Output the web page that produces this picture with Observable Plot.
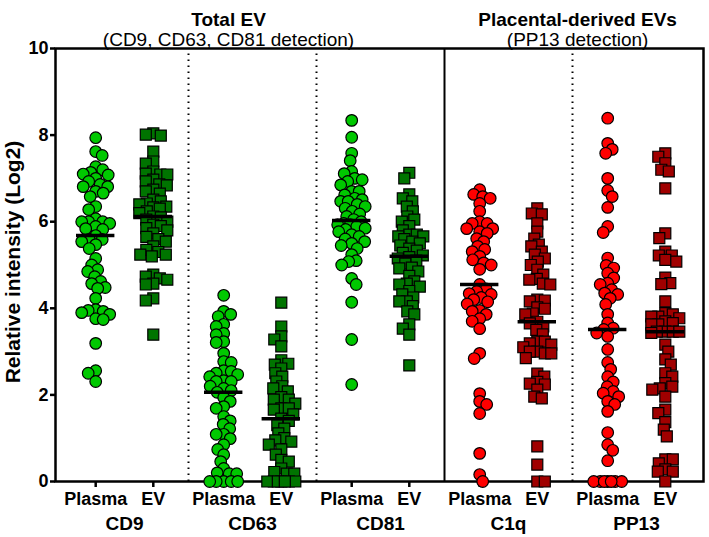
<!DOCTYPE html>
<html><head><meta charset="utf-8">
<script src="https://cdn.jsdelivr.net/npm/d3@7"></script>
<script src="https://cdn.jsdelivr.net/npm/@observablehq/plot@0.6"></script>
<style>body{margin:0;background:#fff}</style>
</head><body><div id="chart"></div>
<script>
// ---- data ----
const groups = ["CD9", "CD63", "CD81", "C1q", "PP13"];
const sampleTypes = ["Plasma", "EV"];
const yTicks = [0, 2, 4, 6, 8, 10];
const panelTitles = ["Total EV", "Placental-derived EVs"];
const panelSubtitles = ["(CD9, CD63, CD81 detection)", "(PP13 detection)"];
const yLabel = "Relative intensity (Log2)";

const cd9Plasma = [7.94, 7.62, 7.53, 7.27, 7.2, 7.14, 7.1, 7.08, 7.0, 6.93, 6.86, 6.81, 6.81, 6.7, 6.66, 6.58, 6.35, 6.28, 6.07, 6.0, 6.0, 6.0, 5.96, 5.89, 5.84, 5.82, 5.68, 5.59, 5.59, 5.54, 5.47, 5.38, 5.15, 5.0, 4.89, 4.85, 4.73, 4.62, 4.57, 4.48, 4.46, 4.23, 3.97, 3.95, 3.93, 3.9, 3.86, 3.76, 3.74, 3.19, 2.56, 2.5, 2.31];
const cd9EV = [8.04, 8.01, 7.99, 7.62, 7.39, 7.34, 7.16, 7.11, 7.09, 7.09, 6.97, 6.93, 6.86, 6.84, 6.74, 6.7, 6.65, 6.51, 6.47, 6.42, 6.4, 6.35, 6.33, 6.3, 6.24, 6.2, 6.12, 6.1, 6.05, 6.0, 5.93, 5.9, 5.85, 5.8, 5.73, 5.65, 5.6, 5.54, 5.43, 5.35, 5.3, 5.24, 5.24, 5.2, 4.78, 4.73, 4.69, 4.66, 4.57, 4.55, 4.23, 4.18, 3.39];
const cd63Plasma = [4.3, 3.93, 3.86, 3.81, 3.63, 3.58, 3.42, 3.39, 3.23, 3.21, 2.96, 2.77, 2.75, 2.56, 2.54, 2.5, 2.47, 2.42, 2.33, 2.31, 2.31, 2.2, 2.15, 2.1, 2.06, 1.94, 1.85, 1.73, 1.69, 1.5, 1.4, 1.32, 1.22, 1.09, 1.09, 0.99, 0.85, 0.74, 0.62, 0.46, 0.3, 0.2, 0.18, 0.18, 0, 0, 0, 0, 0];
const cd63EV = [4.13, 3.58, 3.35, 3.28, 3.12, 2.8, 2.72, 2.7, 2.61, 2.5, 2.42, 2.31, 2.2, 2.15, 2.08, 1.95, 1.89, 1.89, 1.8, 1.69, 1.69, 1.66, 1.55, 1.45, 1.4, 1.3, 1.22, 1.11, 1.0, 0.95, 0.92, 0.85, 0.74, 0.62, 0.5, 0.46, 0.3, 0.22, 0.18, 0.18, 0, 0, 0, 0, 0, 0, 0];
const cd81Plasma = [8.34, 7.95, 7.58, 7.41, 7.16, 7.11, 7.0, 6.97, 6.93, 6.85, 6.7, 6.7, 6.62, 6.54, 6.51, 6.47, 6.47, 6.4, 6.35, 6.31, 6.24, 6.18, 6.12, 6.05, 6.0, 5.96, 5.93, 5.93, 5.89, 5.85, 5.82, 5.77, 5.7, 5.66, 5.6, 5.54, 5.5, 5.45, 5.38, 5.24, 5.1, 5.08, 5.0, 4.69, 4.55, 4.14, 3.28, 2.24];
const cd81EV = [7.13, 7.0, 6.63, 6.54, 6.47, 6.35, 6.24, 6.12, 6.05, 6.0, 5.9, 5.8, 5.7, 5.7, 5.66, 5.66, 5.6, 5.54, 5.5, 5.45, 5.38, 5.33, 5.28, 5.22, 5.18, 5.15, 5.1, 5.03, 4.94, 4.92, 4.85, 4.75, 4.62, 4.57, 4.55, 4.5, 4.4, 4.32, 4.25, 4.16, 4.16, 4.05, 3.93, 3.86, 3.63, 3.53, 3.39, 2.68];
const c1qPlasma = [6.74, 6.63, 6.58, 6.54, 6.42, 6.24, 6.0, 5.96, 5.96, 5.84, 5.84, 5.77, 5.73, 5.61, 5.54, 5.43, 5.36, 5.31, 5.2, 5.12, 5.05, 5.0, 4.9, 4.55, 4.45, 4.39, 4.34, 4.32, 4.25, 4.2, 4.15, 4.1, 3.95, 3.93, 3.86, 3.76, 3.7, 3.53, 2.96, 2.84, 2.03, 1.85, 1.78, 1.57, 0.65, 0.16, 0];
const c1qEV = [6.31, 6.19, 6.17, 5.96, 5.77, 5.61, 5.47, 5.43, 5.31, 5.24, 5.15, 5.08, 5.0, 4.89, 4.78, 4.68, 4.66, 4.57, 4.55, 4.2, 4.18, 4.16, 4.02, 3.99, 3.88, 3.86, 3.69, 3.65, 3.58, 3.5, 3.4, 3.23, 3.23, 3.19, 3.16, 3.1, 3.0, 3.0, 2.96, 2.96, 2.85, 2.49, 2.42, 2.3, 2.26, 2.24, 2.12, 1.96, 1.92, 0.81, 0.39, 0, 0];
const pp13Plasma = [8.39, 7.81, 7.67, 7.58, 7.0, 6.72, 6.58, 6.33, 5.89, 5.75, 5.16, 4.99, 4.93, 4.81, 4.7, 4.58, 4.55, 4.43, 4.35, 4.32, 4.23, 4.09, 3.86, 3.66, 3.54, 3.51, 3.43, 3.35, 3.05, 2.75, 2.59, 2.42, 2.3, 2.19, 2.08, 2.04, 1.96, 1.85, 1.78, 1.62, 1.13, 0.85, 0.72, 0.48, 0, 0, 0, 0, 0, 0, 0];
const pp13EV = [7.58, 7.5, 7.35, 7.2, 7.16, 6.77, 5.73, 5.62, 5.31, 5.22, 5.22, 5.12, 5.08, 4.71, 4.58, 4.56, 4.16, 3.89, 3.86, 3.81, 3.81, 3.77, 3.7, 3.66, 3.63, 3.63, 3.46, 3.46, 3.46, 3.46, 3.43, 3.16, 3.0, 2.82, 2.7, 2.5, 2.42, 2.27, 2.19, 2.15, 2.12, 1.96, 1.66, 1.58, 1.37, 1.2, 1.04, 0.51, 0.51, 0.42, 0.28, 0.23, 0.23, 0];

const seriesValues = {
  "CD9|Plasma": cd9Plasma, "CD9|EV": cd9EV,
  "CD63|Plasma": cd63Plasma, "CD63|EV": cd63EV,
  "CD81|Plasma": cd81Plasma, "CD81|EV": cd81EV,
  "C1q|Plasma": c1qPlasma, "C1q|EV": c1qEV,
  "PP13|Plasma": pp13Plasma, "PP13|EV": pp13EV
};
const placentalGroups = ["C1q", "PP13"];

// ---- layout ----
const W = 709, H = 537;
const mTop = 48, mBottom = 56, mLeft = 55, mRight = 6;
const xRange = [60, 700];
const kx = (xRange[1] - xRange[0]) / 10;
const ky = (H - mBottom - mTop) / 10;
const typeOffset = {Plasma: 0.55, EV: 1.45};

function swarm(values, d, maxOff) {
  const idx = d3.range(values.length).sort((a, b) => d3.descending(values[a], values[b]));
  const placed = [];
  const off = new Array(values.length).fill(0);
  let flip = false;
  for (const i of idx) {
    const py = values[i] * ky;
    let best = 0, bestScore = -Infinity, done = false;
    for (let step = 0; step <= maxOff && !done; step += 0.5) {
      const cands = step === 0 ? [0] : (flip ? [-step, step] : [step, -step]);
      for (const s of cands) {
        let minD = Infinity;
        for (const p of placed) {
          const dd = Math.hypot(p.x - s, p.y - py);
          if (dd < minD) minD = dd;
        }
        if (minD >= d) { best = s; done = true; break; }
        if (minD > bestScore + 0.01) { bestScore = minD; best = s; }
      }
    }
    flip = !flip;
    off[i] = best;
    placed.push({x: best, y: py});
  }
  return off;
}

const points = [];
const medians = [];
groups.forEach((g, gi) => {
  sampleTypes.forEach(t => {
    const vals = seriesValues[g + "|" + t];
    const center = gi * 2 + typeOffset[t];
    const offs = swarm(vals, 7.5, 14);
    const kind = (placentalGroups.includes(g) ? "red" : "green") + "|" + t;
    vals.forEach((v, i) => points.push({group: g, type: t, value: v, x: center + offs[i] / kx, kind}));
    medians.push({group: g, type: t, center, median: d3.median(vals)});
  });
});

const xTicks = groups.flatMap((g, gi) => sampleTypes.map(t => ({pos: gi * 2 + typeOffset[t], label: t})));
const tickLabel = new Map(xTicks.map(d => [d.pos, d.label]));
const groupLabels = groups.map((g, gi) => ({label: g, pos: gi * 2 + 1}));
const titles = [
  {title: panelTitles[0], sub: panelSubtitles[0], pos: 2.625},
  {title: panelTitles[1], sub: panelSubtitles[1], pos: 8.08}
];

const kinds = ["green|Plasma", "green|EV", "red|Plasma", "red|EV"];
const kindColors = ["#00c800", "#007400", "#ff0000", "#a00000"];

const chart = Plot.plot({
  width: W, height: H,
  marginTop: mTop, marginBottom: mBottom, marginLeft: mLeft, marginRight: mRight,
  style: {fontFamily: "'Liberation Sans', Arial, sans-serif", fontWeight: "bold", fontSize: "18px", background: "#fff", color: "#000"},
  x: {domain: [0, 10], range: xRange},
  y: {domain: [0, 10]},
  color: {domain: kinds, range: kindColors},
  marks: [
    Plot.ruleX([2, 4, 8], {y1: 0, y2: 10, stroke: "#000", strokeWidth: 2, strokeDasharray: "1.6,4.4"}),
    Plot.ruleX([6], {y1: 0, y2: 10, stroke: "#000", strokeWidth: 2}),
    Plot.frame({stroke: "#000", strokeWidth: 2.5}),
    Plot.axisY(yTicks, {tickSize: 5, tickPadding: 2, strokeWidth: 2.5, fontSize: 18, fontWeight: "bold", label: null}),
    Plot.axisX(xTicks.map(d => d.pos), {anchor: "bottom", tickSize: 6, tickPadding: 5, strokeWidth: 2.5, fontSize: 18, fontWeight: "bold", tickFormat: d => tickLabel.get(d), label: null}),
    Plot.text(groupLabels, {x: "pos", text: "label", frameAnchor: "bottom", lineAnchor: "top", dy: 35, fontSize: 19, fontWeight: "bold"}),
    Plot.text([yLabel], {frameAnchor: "left", textAnchor: "middle", rotate: -90, dx: -42, dy: -3, fontSize: 21, fontWeight: "bold"}),
    Plot.text(titles, {x: "pos", text: "title", frameAnchor: "top", dy: -36, fontSize: 19, fontWeight: "bold"}),
    Plot.text(titles, {x: "pos", text: "sub", frameAnchor: "top", dy: -16, fontSize: 19, fontWeight: "normal"}),
    Plot.dot(points.filter(d => d.type === "Plasma"), {x: "x", y: "value", r: 5.8, symbol: "circle", fill: "kind", stroke: "#000", strokeWidth: 1.2}),
    Plot.dot(points.filter(d => d.type === "EV"), {x: "x", y: "value", r: 6.2, symbol: "square", fill: "kind", stroke: "#000", strokeWidth: 1.2}),
    Plot.ruleY(medians, {y: "median", x1: d => d.center - 0.3, x2: d => d.center + 0.3, stroke: "#000", strokeWidth: 3.5})
  ]
});
document.getElementById("chart").appendChild(chart);
</script>
</body></html>
